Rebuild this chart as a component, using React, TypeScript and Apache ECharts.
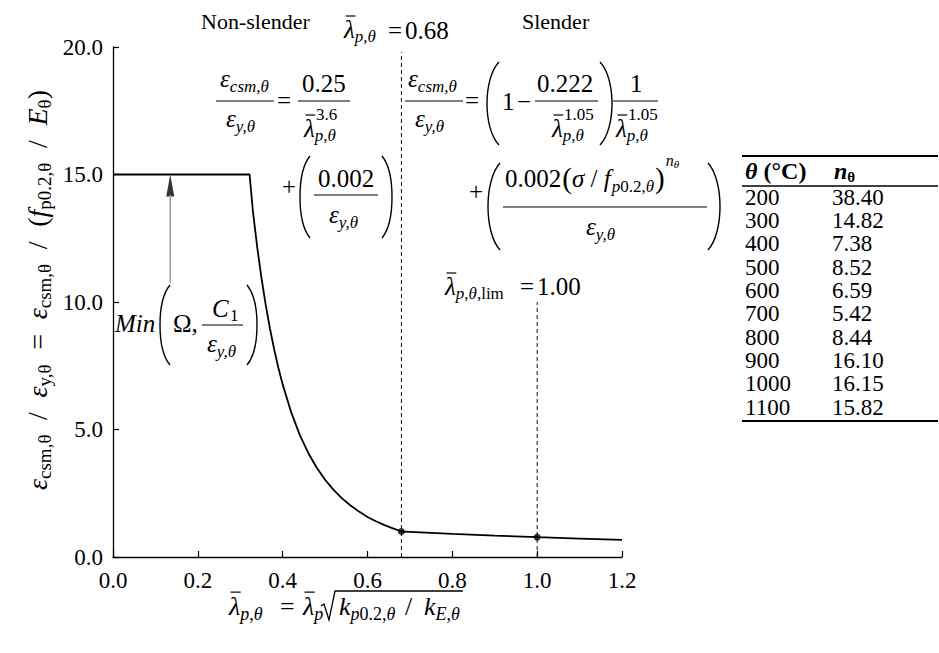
import React, { useEffect, useRef } from "react";
import * as echarts from "echarts";

const FF = "'Liberation Serif', 'Times New Roman', Times, serif";

// ---- data ----
const xTickLabels = ["0.0", "0.2", "0.4", "0.6", "0.8", "1.0", "1.2"];
const yTickLabels = ["0.0", "5.0", "10.0", "15.0", "20.0"];
const curveX = [0, 0.322, 0.33, 0.34, 0.35, 0.36, 0.37, 0.38, 0.39, 0.4, 0.42, 0.44, 0.46, 0.48, 0.5, 0.52, 0.54, 0.56, 0.58, 0.6, 0.62, 0.64, 0.66, 0.68, 0.7, 0.8, 0.9, 1.0, 1.1, 1.2];
const curveY = [15, 15, 13.53, 12.15, 10.95, 9.89, 8.96, 8.14, 7.41, 6.77, 5.68, 4.8, 4.09, 3.51, 3.03, 2.63, 2.3, 2.02, 1.78, 1.57, 1.4, 1.25, 1.12, 1.0, 0.985, 0.909, 0.84, 0.778, 0.723, 0.674];
const dotX = [0.68, 1.0];
const dotY = [1.0, 0.778];
const limit068 = [0.68, 0, 19.8];
const limit100 = [1.0, 0, 10];
const arrowX = 0.135;
const arrowFrom = 10.75;
const arrowTo = 14.2;
const arrowHead = 14.57;
const tableTemps = ["200", "300", "400", "500", "600", "700", "800", "900", "1000", "1100"];
const tableN = ["38.40", "14.82", "7.38", "8.52", "6.59", "5.42", "8.44", "16.10", "16.15", "15.82"];

// ---- text helpers ----
let mctx: CanvasRenderingContext2D | null = null;
function fnt(size: number, it = false, b = false) {
  return `${it ? "italic " : ""}${b ? "bold " : ""}${size}px ${FF}`;
}
function mw(s: string, size: number, it = false, b = false) {
  if (!mctx) mctx = document.createElement("canvas").getContext("2d");
  mctx!.font = fnt(size, it, b);
  return mctx!.measureText(s).width;
}
const K = 0.34;
function T(x: number, base: number, s: string, size: number, it = false, b = false): any {
  return {
    type: "text",
    x,
    y: base - K * size,
    silent: true,
    style: { text: s, font: fnt(size, it, b), fill: "#000", align: "left", verticalAlign: "middle", textAlign: "left", textVerticalAlign: "middle" },
  };
}
function L(x1: number, y1: number, x2: number, y2: number, w = 1.2): any {
  return { type: "line", silent: true, shape: { x1, y1, x2, y2 }, style: { stroke: "#000", lineWidth: w } };
}
type Run = { s: string; size: number; it?: boolean; b?: boolean; dy?: number; gap?: number; bar?: boolean };
function seq(x0: number, base: number, runs: Run[], out: any[] | null): number {
  let x = x0;
  for (const r of runs) {
    x += r.gap || 0;
    const w = mw(r.s, r.size, r.it, r.b);
    if (out) {
      out.push(T(x, base + (r.dy || 0), r.s, r.size, r.it, r.b));
      if (r.bar) out.push(L(x + 1.5, base + (r.dy || 0) - 0.88 * r.size, x + w + 0.5, base + (r.dy || 0) - 0.88 * r.size, 1.2));
    }
    x += w;
  }
  return x;
}
function paren(xl: number, xr: number, top: number, bottom: number, left: boolean): any {
  const h = bottom - top;
  const xs = left ? xr : xl;
  const xe = left ? xl : xr;
  const cx = xs + (xe - xs) / 0.75;
  return {
    type: "bezierCurve",
    silent: true,
    shape: { x1: xs, y1: top, x2: xs, y2: bottom, cpx1: cx, cpy1: top + h * 0.2, cpx2: cx, cpy2: bottom - h * 0.2 },
    style: { stroke: "#000", lineWidth: 1.4, fill: "none" },
  };
}

const M = 25;
const S = 17;

function subPT(size: number, dy: number): Run[] {
  return [{ s: "p", size, it: true, dy }, { s: ",", size, dy }, { s: "θ", size, it: true, dy }];
}

function buildGraphics(): any[] {
  const g: any[] = [];
  // region labels
  g.push(T(201, 29, "Non-slender", 22));
  g.push(T(522, 29, "Slender", 22));

  // lambda = 0.68
  seq(344, 38, [{ s: "λ", size: M, it: true, bar: true }, ...subPT(S, 4)], g);
  g.push(T(388, 39, "=", M));
  g.push(T(405, 39, "0.68", M));

  // ---- non-slender formula ----
  seq(220, 87, [{ s: "ε", size: M, it: true }, { s: "csm,θ", size: S, it: true, dy: 5 }], g);
  g.push(L(216, 101, 274, 101));
  seq(226, 127, [{ s: "ε", size: M, it: true }, { s: "y,θ", size: S, it: true, dy: 5 }], g);
  g.push(T(277, 108.5, "=", M));
  g.push(T(302, 92, "0.25", M));
  g.push(L(298, 101, 350, 101));
  seq(304, 137, [{ s: "λ", size: M, it: true, bar: true }, ...subPT(S, 4)], g);
  g.push(T(316, 120, "3.6", S));
  g.push(T(282, 195, "+", M));
  g.push(paren(300, 310, 156, 238, true));
  g.push(T(318, 187, "0.002", M));
  g.push(L(314, 195, 378, 195));
  seq(329, 223, [{ s: "ε", size: M, it: true }, { s: "y,θ", size: S, it: true, dy: 5 }], g);
  g.push(paren(382, 392, 156, 238, false));

  // ---- slender formula ----
  seq(408, 87, [{ s: "ε", size: M, it: true }, { s: "csm,θ", size: S, it: true, dy: 5 }], g);
  g.push(L(405, 101, 463, 101));
  seq(415, 127, [{ s: "ε", size: M, it: true }, { s: "y,θ", size: S, it: true, dy: 5 }], g);
  g.push(T(465, 108.5, "=", M));
  g.push(paren(487, 499, 62, 145, true));
  g.push(T(502, 110, "1", M));
  g.push(T(517, 110, "−", M));
  g.push(T(537, 92, "0.222", M));
  g.push(L(535, 101, 598, 101));
  seq(552, 137, [{ s: "λ", size: M, it: true, bar: true }, ...subPT(S, 4)], g);
  g.push(T(564, 120, "1.05", S));
  g.push(paren(600, 612, 62, 145, false));
  g.push(T(630, 92, "1", M));
  g.push(L(613, 101, 658, 101));
  seq(616, 137, [{ s: "λ", size: M, it: true, bar: true }, ...subPT(S, 4)], g);
  g.push(T(628, 120, "1.05", S));

  g.push(T(469, 200, "+", M));
  g.push(paren(488, 500, 163, 250, true));
  let x = seq(505, 187, [{ s: "0.002", size: M }, { s: "(", size: 29, dy: 1, gap: 1 }, { s: "σ", size: M, it: true }, { s: " / ", size: M }, { s: "f", size: M, it: true }], g);
  x = seq(x + 1, 192, [{ s: "p", size: S, it: true }, { s: "0.2", size: S }, { s: ",", size: S }, { s: "θ", size: S, it: true }], g);
  x = seq(x + 1, 188, [{ s: ")", size: 29 }], g);
  seq(x + 1, 166, [{ s: "n", size: 16, it: true }, { s: "θ", size: 11, it: true, dy: 2 }], g);
  g.push(L(503, 207, 707, 207));
  seq(586, 235, [{ s: "ε", size: M, it: true }, { s: "y,θ", size: S, it: true, dy: 5 }], g);
  g.push(paren(708, 720, 163, 250, false));

  // lambda lim = 1.00
  seq(445, 295, [{ s: "λ", size: M, it: true, bar: true }, ...subPT(S, 4), { s: ",lim", size: S, dy: 4 }], g);
  g.push(T(520, 295, "=", M));
  g.push(T(537, 295, "1.00", M));

  // Min(...)
  g.push(T(115, 332, "Min", M, true));
  g.push(paren(160, 170, 285, 365, true));
  g.push(T(173, 332, "Ω,", M));
  g.push(T(212, 317, "C", M, true));
  g.push(T(230, 321, "1", S));
  g.push(L(202, 325, 243, 325));
  seq(207, 352, [{ s: "ε", size: M, it: true }, { s: "y,θ", size: S, it: true, dy: 5 }], g);
  g.push(paren(247, 257, 285, 365, false));

  // x-axis title (absolute pieces)
  const XB = 615;
  const XM = 26;
  const XS = 18;
  seq(229, XB, [{ s: "λ", size: XM, it: true, bar: true }, ...subPT(XS, 5)], g);
  g.push(T(280, XB, "=", XM));
  seq(303, XB, [{ s: "λ", size: XM, it: true, bar: true }, { s: "p", size: XS, it: true, dy: 5 }], g);
  seq(339, XB, [{ s: "k", size: XM, it: true }, { s: "p", size: XS, it: true, dy: 5 }, { s: "0.2", size: XS, dy: 5 }, { s: ",", size: XS, dy: 5 }, { s: "θ", size: XS, it: true, dy: 5 }], g);
  g.push(T(405, XB, "/", XM));
  const xe = seq(424, XB, [{ s: "k", size: XM, it: true }, { s: "E", size: XS, it: true, dy: 5 }, { s: ",", size: XS, dy: 5 }, { s: "θ", size: XS, it: true, dy: 5 }], g);
  const sx = 321;
  g.push({
    type: "polyline",
    silent: true,
    shape: { points: [[sx, XB - 9], [sx + 3, XB - 11], [sx + 8, XB + 5], [sx + 14, XB - 24], [xe + 3, XB - 24]] },
    style: { stroke: "#000", lineWidth: 1.3, fill: "none" },
  });

  // y-axis title (rotated), fitted to span the measured length
  const YM = 28;
  const YS = 19;
  const mk = (gp: number): Run[] => [
    { s: "ε", size: YM, it: true }, { s: "csm,θ", size: YS, dy: 4 },
    { s: "/", size: YM, gap: gp }, { s: "ε", size: YM, it: true, gap: gp }, { s: "y,θ", size: YS, dy: 4 },
    { s: "=", size: YM, gap: gp }, { s: "ε", size: YM, it: true, gap: gp }, { s: "csm,θ", size: YS, dy: 4 },
    { s: "/", size: YM, gap: gp }, { s: "(", size: YM, gap: gp }, { s: "f", size: YM, it: true }, { s: "p0.2,θ", size: YS, dy: 4 },
    { s: "/", size: YM, gap: gp }, { s: "E", size: YM, it: true, gap: gp }, { s: "θ", size: YS, dy: 4 },
    { s: ")", size: YM },
  ];
  const natural = seq(0, 0, mk(0), null);
  const gp = Math.max(5, (400 - natural) / 8);
  const yt: any[] = [];
  seq(0, 0, mk(gp), yt);
  g.push({ type: "group", x: 47, y: 490, rotation: Math.PI / 2, children: yt });

  // table
  g.push(L(742, 156, 938, 156, 2));
  g.push(L(742, 186, 938, 186, 1.5));
  g.push(L(742, 421, 938, 421, 2));
  seq(745, 179, [{ s: "θ", size: 24, it: true, b: true }, { s: " (°C)", size: 24, b: true }], g);
  seq(834, 179, [{ s: "n", size: 24, it: true, b: true }, { s: "θ", size: 15, b: true, dy: 3 }], g);
  for (let i = 0; i < tableTemps.length; i++) {
    const b = 205 + i * 23.35;
    g.push(T(745, b, tableTemps[i], 23));
    g.push(T(832, b, tableN[i], 23));
  }
  return g;
}

export default function App() {
  const ref = useRef<HTMLDivElement>(null);
  useEffect(() => {
    if (!ref.current) return;
    const chart = echarts.init(ref.current, undefined, { renderer: "svg" });
    const curve = curveX.map((v, i) => [v, curveY[i]]);
    const dots = dotX.map((v, i) => [v, dotY[i]]);
    const axisLabel = { fontSize: 23, fontFamily: FF, color: "#000" };
    const dashed = { color: "#111", width: 1, type: [4, 3] as any };
    chart.setOption({
      animation: false,
      backgroundColor: "#fff",
      grid: { left: 113, right: 317, top: 47, bottom: 96, containLabel: false },
      xAxis: {
        type: "value",
        min: 0,
        max: 1.2,
        interval: 0.2,
        axisLine: { lineStyle: { color: "#000", width: 1.3 } },
        axisTick: { inside: true, length: 6, lineStyle: { color: "#000", width: 1.2 } },
        axisLabel: { ...axisLabel, margin: 12, formatter: (v: number) => xTickLabels[Math.round(v / 0.2)] ?? "" },
        splitLine: { show: false },
      },
      yAxis: {
        type: "value",
        min: 0,
        max: 20,
        interval: 5,
        axisLine: { show: true, lineStyle: { color: "#000", width: 1.3 } },
        axisTick: { show: true, inside: true, length: 6, lineStyle: { color: "#000", width: 1.2 } },
        axisLabel: { ...axisLabel, margin: 10, formatter: (v: number) => yTickLabels[Math.round(v / 5)] ?? "" },
        splitLine: { show: false },
      },
      series: [
        { type: "line", data: [[limit068[0], limit068[1]], [limit068[0], limit068[2]]], symbol: "none", lineStyle: dashed, silent: true },
        { type: "line", data: [[limit100[0], limit100[1]], [limit100[0], limit100[2]]], symbol: "none", lineStyle: dashed, silent: true },
        { type: "line", data: [[arrowX, arrowFrom], [arrowX, arrowTo]], symbol: "none", lineStyle: { color: "#a0a0a0", width: 1.6 }, silent: true },
        { type: "scatter", data: [[arrowX, arrowHead]], symbol: "triangle", symbolSize: [8, 22], itemStyle: { color: "#000" }, silent: true },
        { type: "line", data: curve, symbol: "none", lineStyle: { color: "#000", width: 1.8 }, silent: true },
        { type: "scatter", data: dots, symbol: "circle", symbolSize: 7, itemStyle: { color: "#000" }, silent: true },
      ],
      graphic: { elements: buildGraphics() },
    });
    return () => chart.dispose();
  }, []);
  return <div ref={ref} style={{ position: "absolute", left: 0, top: 0, width: 939, height: 653 }} />;
}
